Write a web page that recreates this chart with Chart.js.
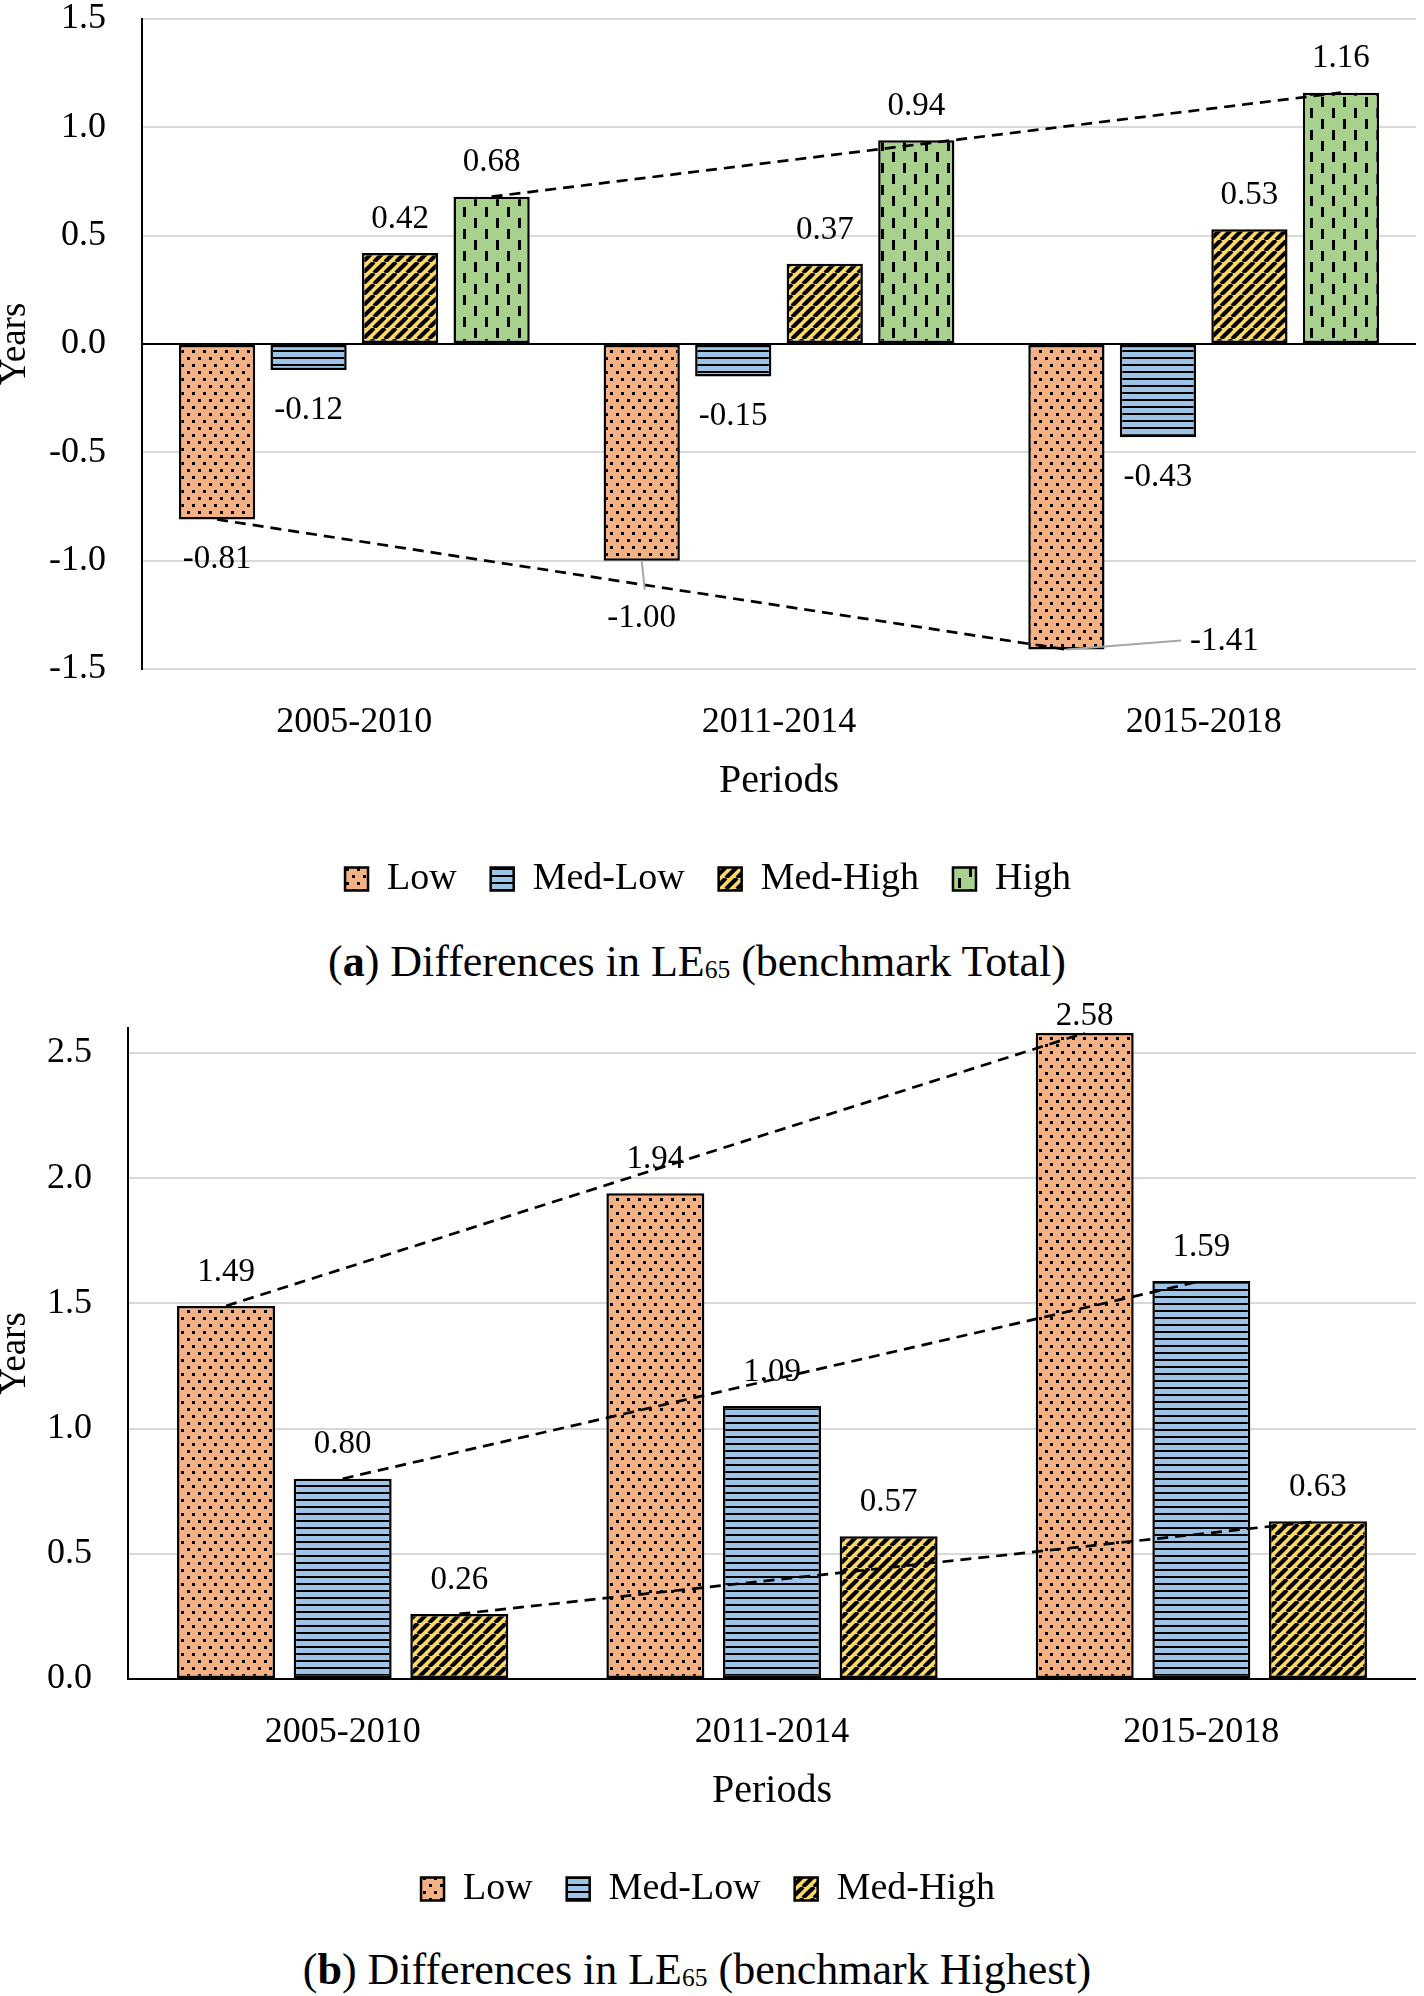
<!DOCTYPE html>
<html>
<head>
<meta charset="utf-8">
<script src="https://cdn.jsdelivr.net/npm/chart.js@4.4.1/dist/chart.umd.min.js"></script>
<style>
  body { margin: 0; background: #fff; font-family: "Liberation Serif", serif; color: #000; }
  .box { position: absolute; left: 0; width: 1424px; }
  .cap { position: absolute; left: 0; width: 1394px; text-align: center; font-size: 44px; line-height: 50px; }
  .cap sub { font-size: 0.58em; vertical-align: -0.08em; }
</style>
</head>
<body>
<div class="cap" style="top:937px">(<b>a</b>) Differences in LE<sub>65</sub> (benchmark Total)</div>
<div class="cap" style="top:1945px">(<b>b</b>) Differences in LE<sub>65</sub> (benchmark Highest)</div>
<div class="box" id="boxA" style="top:0"><canvas id="chartA" width="1424" height="965"></canvas></div>
<div class="box" id="boxB" style="top:1000px"><canvas id="chartB" width="1424" height="965"></canvas></div>
<script>
// values
const periods = ['2005-2010', '2011-2014', '2015-2018'];

const lowA = [-0.81, -1.00, -1.41];
const medLowA = [-0.12, -0.15, -0.43];
const medHighA = [0.42, 0.37, 0.53];
const highA = [0.68, 0.94, 1.16];
const ticksA = [-1.5, -1.0, -0.5, 0, 0.5, 1.0, 1.5];

const lowB = [1.49, 1.94, 2.58];
const medLowB = [0.80, 1.09, 1.59];
const medHighB = [0.26, 0.57, 0.63];
const ticksB = [0, 0.5, 1.0, 1.5, 2.0, 2.5];

const FONT = '"Liberation Serif", serif';

// excel-like fill patterns
function makePattern(w, h, bg, draw) {
  const c = document.createElement('canvas');
  c.width = w; c.height = h;
  const g = c.getContext('2d');
  g.fillStyle = bg;
  g.fillRect(0, 0, w, h);
  g.fillStyle = '#000';
  g.strokeStyle = '#000';
  draw(g, w, h);
  return g.createPattern(c, 'repeat');
}

const dots = makePattern(11, 14, '#F4B183', g => {
  g.fillRect(0, 0, 3, 3);
  g.fillRect(5, 7, 3, 3);
});
const hLines = makePattern(4, 7, '#9DC3E6', g => {
  g.fillRect(0, 0, 4, 2);
});
const diag = makePattern(11, 11, '#FFD966', (g, w, h) => {
  g.lineWidth = 4.1;
  [-w, 0, w].forEach(k => {
    g.beginPath(); g.moveTo(k, h); g.lineTo(k + w, 0); g.stroke();
  });
});
const vDash = makePattern(22, 22, '#A9D18E', g => {
  g.fillRect(1, 0, 3, 10);
  g.fillRect(12, 11, 3, 10);
});

// trend lines + value labels
const barExtras = {
  id: 'barExtras',
  afterDatasetsDraw(chart, args, opts) {
    const ctx = chart.ctx;
    ctx.save();
    ctx.setLineDash([11, 7]);
    ctx.lineWidth = 2.7;
    ctx.strokeStyle = '#000';
    (opts.trend || []).forEach(i => {
      const bars = chart.getDatasetMeta(i).data;
      const a = bars[0], b = bars[bars.length - 1];
      ctx.beginPath();
      ctx.moveTo(a.x, a.y);
      ctx.lineTo(b.x, b.y);
      ctx.stroke();
    });
    ctx.setLineDash([]);

    ctx.font = '33px ' + FONT;
    ctx.fillStyle = '#000';
    ctx.textAlign = 'center';
    ctx.textBaseline = 'middle';
    chart.data.datasets.forEach((ds, i) => {
      chart.getDatasetMeta(i).data.forEach((bar, j) => {
        const v = ds.data[j];
        const txt = v.toFixed(2);
        let x = bar.x;
        let y = v >= 0 ? bar.y - 34 : bar.y + 40;
        const n = (opts.nudge || {})[i + ':' + j];
        if (n) {
          x += n.dx; y += n.dy;
          if (n.leader) {
            ctx.strokeStyle = '#A6A6A6';
            ctx.lineWidth = 2;
            ctx.beginPath();
            ctx.moveTo(bar.x, bar.y);
            if (n.dx) ctx.lineTo(x - ctx.measureText(txt).width / 2 - 9, y - 1);
            else ctx.lineTo(bar.x + 3, y - 29);
            ctx.stroke();
          }
        }
        ctx.fillText(txt, x, y);
      });
    });
    ctx.restore();
  }
};

function setup(id, series, yTicks, yMin, yMax, axisWidth, catPct, barPct, extras) {
  const names = ['Low', 'Med-Low', 'Med-High', 'High'];
  const fills = [dots, hLines, diag, vDash];
  const pad = { top: 0, right: 8, left: 0, bottom: 10 };
  const chart = new Chart(document.getElementById(id), {
    type: 'bar',
    data: {
      labels: periods,
      datasets: series.map((d, i) => ({
        label: names[i],
        data: d,
        backgroundColor: fills[i],
        borderColor: '#000',
        borderWidth: 2.5,
        borderSkipped: false,
        categoryPercentage: catPct,
        barPercentage: barPct
      }))
    },
    options: {
      responsive: false,
      animation: false,
      events: [],
      layout: { padding: pad },
      scales: {
        x: {
          grid: { display: false, drawTicks: false },
          border: { display: false },
          ticks: { color: '#000', font: { family: FONT, size: 36, lineHeight: 1 }, padding: 36 },
          title: { display: true, text: 'Periods', color: '#000', font: { family: FONT, size: 40, lineHeight: 1 }, padding: { top: -16, bottom: 25 } }
        },
        y: {
          min: yMin,
          max: yMax,
          afterBuildTicks: s => { s.ticks = yTicks.map(v => ({ value: v })); },
          afterFit: s => { s.width = axisWidth; },
          grid: {
            drawTicks: false,
            lineWidth: 2,
            color: c => (c.tick && c.tick.value === 0) ? '#000' : '#D9D9D9'
          },
          border: { display: true, color: '#000', width: 2 },
          ticks: {
            color: '#000',
            padding: 36,
            font: { family: FONT, size: 36, lineHeight: 1 },
            callback: v => Number(v).toFixed(1)
          },
          title: { display: true, text: 'Years', color: '#000', font: { family: FONT, size: 37, lineHeight: 0.85 }, padding: 0 }
        }
      },
      plugins: {
        tooltip: { enabled: false },
        legend: {
          position: 'bottom',
          labels: { color: '#000', font: { family: FONT, size: 38 }, boxWidth: 23, boxHeight: 23, padding: 34 }
        },
        barExtras: extras
      }
    },
    plugins: [barExtras]
  });
  return { chart, pad };
}

// slide the canvas so the plot area sits where the figure has it, then fit its bottom
function fitArea(o, boxId, boxTop, top, bottom) {
  const shift = Math.round(o.chart.chartArea.top - top);
  document.getElementById(boxId).style.top = (boxTop - shift) + 'px';
  for (let k = 0; k < 2; k++) {
    o.pad.bottom += o.chart.chartArea.bottom - (bottom + shift);
    o.chart.update();
  }
}

var chartA = setup('chartA', [lowA, medLowA, medHighA, highA], ticksA, -1.5, 1.5, 142, 0.862, 0.833, {
  trend: [0, 3],
  nudge: { '0:1': { dx: 0, dy: 18, leader: true }, '0:2': { dx: 158, dy: -48, leader: true } }
});
fitArea(chartA, 'boxA', 0, 19, 669);

var chartB = setup('chartB', [lowB, medLowB, medHighB], ticksB, 0, 2.6, 128, 0.815, 0.84, {
  trend: [0, 1, 2],
  nudge: { '0:2': { dx: 0, dy: 17 } }
});
fitArea(chartB, 'boxB', 1000, 28, 679);
</script>
</body>
</html>
